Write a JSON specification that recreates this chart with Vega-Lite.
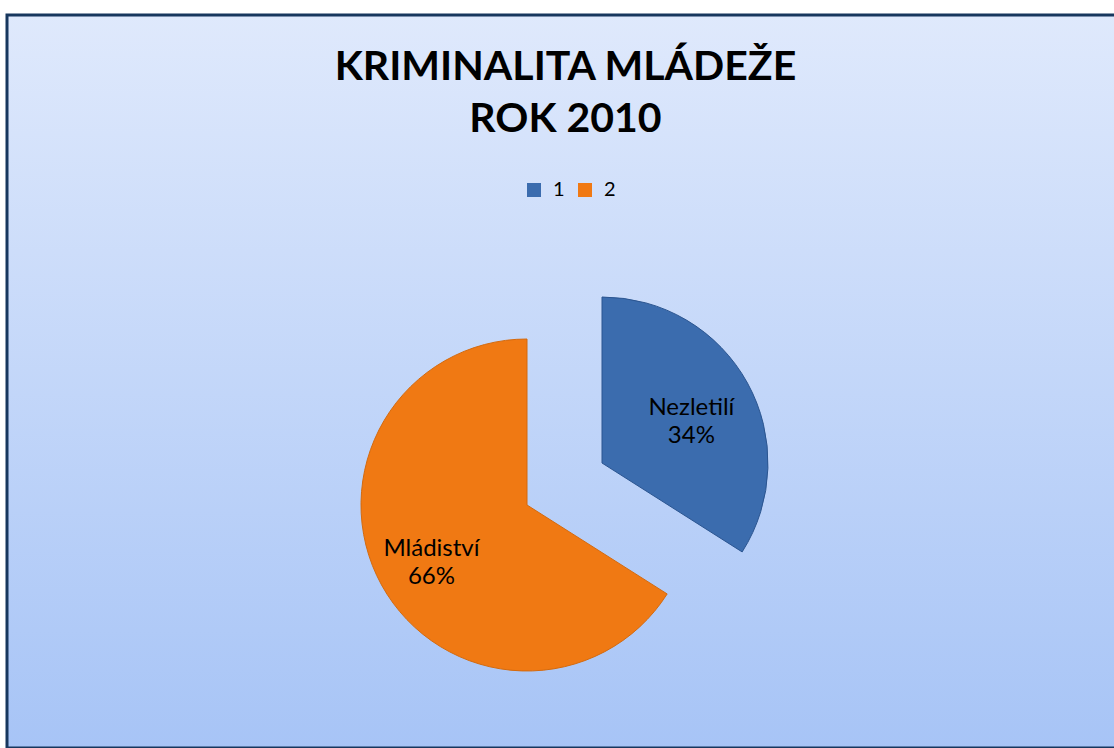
{
  "$schema": "https://vega.github.io/schema/vega-lite/v6.json",
  "width": 1107,
  "height": 739,
  "autosize": {"type": "none"},
  "padding": {"left": 7, "top": 9, "right": 0, "bottom": 0},
  "background": "white",
  "config": {
    "font": "Lato",
    "view": {"stroke": null}
  },
  "title": {
    "text": ["KRIMINALITA MLÁDEŽE", "ROK 2010"],
    "font": "Lato",
    "fontSize": 41,
    "fontWeight": "bold",
    "color": "#000000",
    "anchor": "middle",
    "frame": "group",
    "orient": "top",
    "baseline": "alphabetic",
    "lineHeight": 52,
    "offset": -164,
    "dx": 5
  },
  "data": {
    "values": [
      {"cat": "1", "name": "Nezletilí", "value": 34, "label": "Nezletilí\n34%"},
      {"cat": "2", "name": "Mládiství", "value": 66, "label": "Mládiství\n66%"}
    ]
  },
  "layer": [
    {
      "data": {"values": [{"panel": "background"}]},
      "mark": {
        "type": "rect",
        "fill": {"gradient": "linear", "x1": 0, "y1": 0, "x2": 0, "y2": 1, "stops": [{"offset": 0, "color": "#DFE9FC"}, {"offset": 1, "color": "#A7C4F6"}]},
        "stroke": "#17375E",
        "strokeWidth": 3,
        "xOffset": 6,
        "yOffset": 6
      },
      "encoding": {}
    },
    {
      "transform": [
        {"stack": "value", "groupby": [], "sort": [{"field": "cat", "order": "ascending"}], "as": ["v0", "v1"]},
        {"filter": "datum.cat == '1'"}
      ],
      "mark": {"type": "arc", "outerRadius": 166, "xOffset": 41.5, "yOffset": 84.5, "stroke": "#2B5590", "strokeWidth": 1},
      "encoding": {
        "theta": {"field": "v0", "type": "quantitative", "scale": {"domain": [0, 100]}},
        "theta2": {"field": "v1"},
        "color": {
          "field": "cat", "type": "nominal",
          "scale": {"domain": ["1", "2"], "range": ["#3B6CAE", "#F07913"]},
          "legend": {"orient": "none", "legendX": 517, "legendY": 171, "direction": "horizontal", "title": null, "symbolType": "square", "symbolSize": 196, "symbolStrokeWidth": 0, "symbolOpacity": 1, "labelFontSize": 20, "labelFont": "Lato", "labelColor": "#000000", "columnPadding": 10, "labelOffset": 9, "padding": 0}
        }
      }
    },
    {
      "transform": [
        {"stack": "value", "groupby": [], "sort": [{"field": "cat", "order": "ascending"}], "as": ["v0", "v1"]},
        {"filter": "datum.cat == '2'"}
      ],
      "mark": {"type": "arc", "outerRadius": 166, "xOffset": -33.5, "yOffset": 126.5, "stroke": "#D46A0E", "strokeWidth": 1},
      "encoding": {
        "theta": {"field": "v0", "type": "quantitative", "scale": {"domain": [0, 100]}},
        "theta2": {"field": "v1"},
        "color": {"field": "cat", "type": "nominal"}
      }
    },
    {
      "mark": {"type": "text", "radius": 102, "xOffset": 41.5, "yOffset": 84.5, "dy": -6, "fontSize": 24, "font": "Lato", "color": "#000000", "align": "center", "baseline": "middle", "lineBreak": "\n", "lineHeight": 28},
      "encoding": {
        "theta": {"field": "value", "type": "quantitative", "stack": true, "scale": {"domain": [0, 100]}},
        "order": {"field": "cat", "type": "ordinal", "sort": "ascending"},
        "text": {"condition": {"test": "datum.cat == '1'", "field": "label"}, "value": ""}
      }
    },
    {
      "mark": {"type": "text", "radius": 109, "xOffset": -33.5, "yOffset": 126.5, "dy": -9, "fontSize": 24, "font": "Lato", "color": "#000000", "align": "center", "baseline": "middle", "lineBreak": "\n", "lineHeight": 28},
      "encoding": {
        "theta": {"field": "value", "type": "quantitative", "stack": true, "scale": {"domain": [0, 100]}},
        "order": {"field": "cat", "type": "ordinal", "sort": "ascending"},
        "text": {"condition": {"test": "datum.cat == '2'", "field": "label"}, "value": ""}
      }
    }
  ]
}
